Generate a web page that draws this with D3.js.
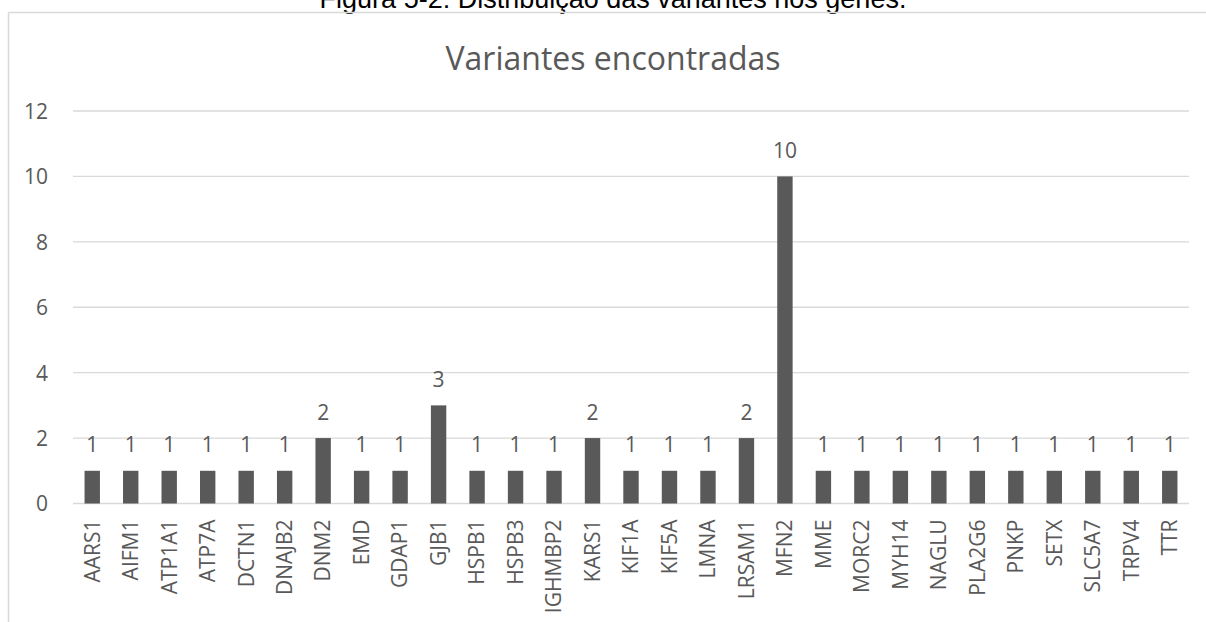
<!DOCTYPE html>
<html>
<head>
<meta charset="utf-8">
<script src="https://cdn.jsdelivr.net/npm/d3@7"></script>
<style>
  html, body { margin: 0; padding: 0; background: #fff; }
  svg { display: block; }
</style>
</head>
<body>
<svg id="chart" width="1206" height="622"></svg>
<script>
// Genes and number of variants found in each
const genes = ["AARS1","AIFM1","ATP1A1","ATP7A","DCTN1","DNAJB2","DNM2","EMD","GDAP1","GJB1",
  "HSPB1","HSPB3","IGHMBP2","KARS1","KIF1A","KIF5A","LMNA","LRSAM1","MFN2","MME",
  "MORC2","MYH14","NAGLU","PLA2G6","PNKP","SETX","SLC5A7","TRPV4","TTR"];
const variantCounts = [1,1,1,1,1,1,2,1,1,3,
  1,1,1,2,1,1,1,2,10,1,
  1,1,1,1,1,1,1,1,1];
const yTicks = [0, 2, 4, 6, 8, 10, 12];

const captionText = "Figura 5-2: Distribuição das variantes nos genes.";
const chartTitle = "Variantes encontradas";

const W = 1206, H = 622;
const plot = { left: 73, right: 1189, top: 111, bottom: 503.5 };
const textColor = "#595959";
const barColor = "#595959";
const gridColor = "#d9d9d9";
const font = "'Open Sans', sans-serif";
const labelSize = 21;

const svg = d3.select("#chart");

// Figure caption above the chart frame (partly clipped at the top edge)
svg.append("text")
  .attr("x", 613).attr("y", 8)
  .attr("text-anchor", "middle")
  .attr("font-family", "'Liberation Sans', Arial, sans-serif")
  .attr("font-size", 27)
  .attr("fill", "#000")
  .text(captionText);

// Chart frame: top and left edges
svg.append("line").attr("x1", 8.5).attr("x2", W).attr("y1", 12.5).attr("y2", 12.5)
  .attr("stroke", gridColor).attr("stroke-width", 1.5);
svg.append("line").attr("x1", 8.5).attr("x2", 8.5).attr("y1", 12.5).attr("y2", H)
  .attr("stroke", gridColor).attr("stroke-width", 1.5);

// Chart title
svg.append("text")
  .attr("x", 613).attr("y", 70)
  .attr("text-anchor", "middle")
  .attr("font-family", font)
  .attr("font-size", 32)
  .attr("fill", textColor)
  .text(chartTitle);

const x = d3.scaleBand()
  .domain(genes)
  .range([plot.left, plot.right])
  .paddingInner(0.6)
  .paddingOuter(0.3);

const y = d3.scaleLinear()
  .domain([0, 12])
  .range([plot.bottom, plot.top]);

// Horizontal gridlines
svg.append("g").selectAll("line")
  .data(yTicks)
  .join("line")
  .attr("x1", plot.left).attr("x2", plot.right)
  .attr("y1", d => y(d)).attr("y2", d => y(d))
  .attr("stroke", gridColor).attr("stroke-width", 1.3);

// Y axis labels
const yAxis = d3.axisLeft(y).tickValues(yTicks).tickSize(0).tickPadding(0).tickFormat(d3.format("d"));
const yAxisG = svg.append("g")
  .attr("transform", `translate(48,0)`)
  .call(yAxis);
yAxisG.select(".domain").remove();
yAxisG.selectAll("text")
  .attr("font-family", font)
  .attr("font-size", labelSize)
  .attr("fill", textColor)
  .attr("dy", "0.35em");

// Bars
const data = genes.map((g, i) => ({ gene: g, value: variantCounts[i] }));
svg.append("g").selectAll("rect")
  .data(data)
  .join("rect")
  .attr("x", d => x(d.gene))
  .attr("y", d => y(d.value))
  .attr("width", x.bandwidth())
  .attr("height", d => y(0) - y(d.value))
  .attr("fill", barColor);

// Value labels above bars
svg.append("g").selectAll("text")
  .data(data)
  .join("text")
  .attr("x", d => x(d.gene) + x.bandwidth() / 2)
  .attr("y", d => y(d.value) - 18.5)
  .attr("text-anchor", "middle")
  .attr("font-family", font)
  .attr("font-size", labelSize)
  .attr("fill", textColor)
  .text(d => d.value);

// Category axis labels (rotated)
const xAxis = d3.axisBottom(x).tickSize(0).tickPadding(0);
const xAxisG = svg.append("g")
  .attr("transform", `translate(0,${plot.bottom})`)
  .call(xAxis);
xAxisG.select(".domain").remove();
xAxisG.selectAll("text")
  .attr("font-family", font)
  .attr("font-size", labelSize)
  .attr("fill", textColor)
  .attr("text-anchor", "end")
  .attr("transform", "rotate(-90)")
  .attr("x", -16)
  .attr("y", 0)
  .attr("dy", "0.35em");
</script>
</body>
</html>
